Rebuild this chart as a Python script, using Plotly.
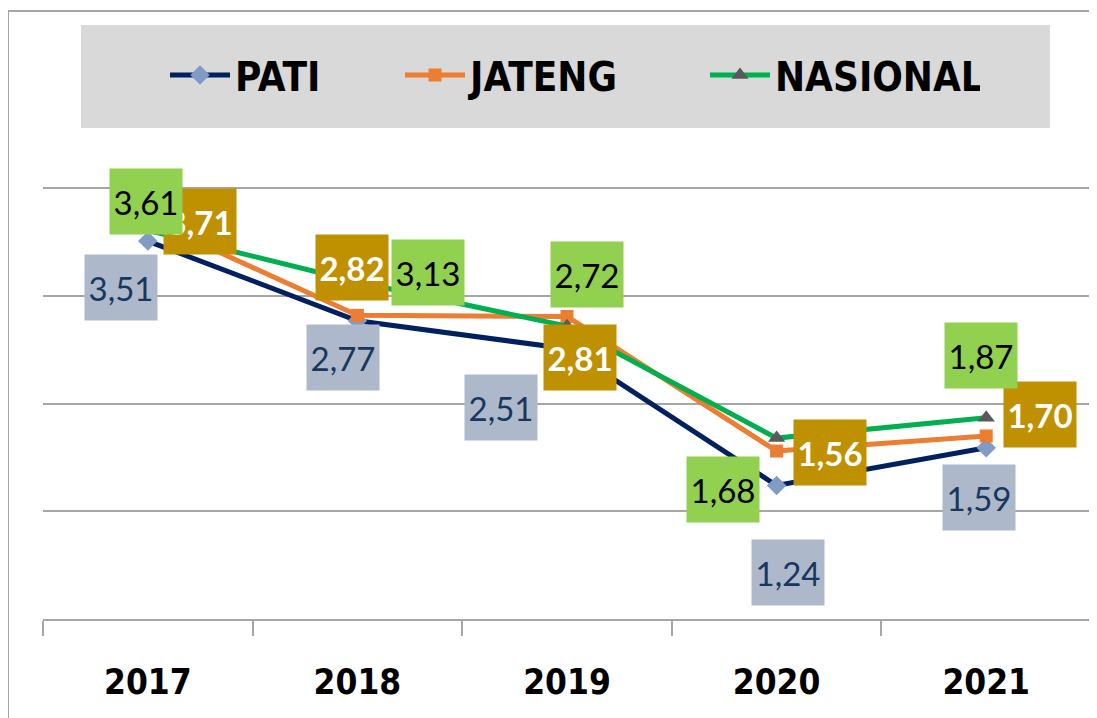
import plotly.graph_objects as go

years = ["2017", "2018", "2019", "2020", "2021"]
pati = [3.51, 2.77, 2.51, 1.24, 1.59]
jateng = [3.71, 2.82, 2.81, 1.56, 1.70]
nasional = [3.61, 3.13, 2.72, 1.68, 1.87]

def fmt(v):
    return f"{v:.2f}".replace(".", ",")

# label box offsets in pixels (dx right, dy down) from each data point
pati_off = [(-27, 46), (-14, 37), (-66, 59), (11, 87), (-7, 50)]
jateng_off = [(52, 2), (-5, -48), (13, 41), (53, 1), (54, -21)]
nas_off = [(-2, -29), (71, -9), (20, -52), (-54, 51), (-5, -62)]

COND = "DejaVu Sans Condensed, DejaVu Sans, sans-serif"
LABEL = "Lato, Open Sans, sans-serif"

OX, OY = 8, 8  # page body offset
L, T, B_AX, R_AX = 43 - OX, 156 - OY, 619 - OY, 1091 - OX
W, H = 1097, 718

fig = go.Figure()
fig.add_trace(go.Scatter(
    x=years, y=pati, name="PATI", mode="lines+markers",
    line=dict(color="#002060", width=5),
    marker=dict(symbol="diamond", size=15, color="#7f9cc4"),
    legendwidth=160, cliponaxis=False))
fig.add_trace(go.Scatter(
    x=years, y=jateng, name="JATENG", mode="lines+markers",
    line=dict(color="#ed7d31", width=5),
    marker=dict(symbol="square", size=13, color="#ed7d31"),
    legendwidth=230, cliponaxis=False))
fig.add_trace(go.Scatter(
    x=years, y=nasional, name="NASIONAL", mode="lines+markers",
    line=dict(color="#00b050", width=5),
    marker=dict(symbol="triangle-up", size=15, color="#595959"),
    legendwidth=200, cliponaxis=False))

annotations = []
series_styles = [
    (pati, pati_off, "#adb9ca", "#17375e", False),
    (jateng, jateng_off, "#bf9000", "#ffffff", True),
    (nasional, nas_off, "#92d050", "#000000", False),
]
for vals, offs, bg, fc, bold in series_styles:
    for i, (v, (dx, dy)) in enumerate(zip(vals, offs)):
        txt = fmt(v)
        if bold:
            txt = "<b>" + txt + "</b>"
        annotations.append(dict(
            x=i, y=v, xref="x", yref="y", text=txt, showarrow=False,
            xshift=dx, yshift=-dy, width=70, height=63, bgcolor=bg,
            font=dict(family=LABEL, size=33, color=fc)))

PLOT_H = float(B_AX - T)
PLOT_W = float(R_AX - L)
def py(pix):
    return (619 - pix) / PLOT_H
def px(pix):
    return (pix - 43) / PLOT_W

shapes = [
    dict(type="rect", xref="paper", yref="paper", x0=px(81), x1=px(1050), y0=py(128), y1=py(25),
         fillcolor="#d9d9d9", line=dict(width=0), layer="below"),
    dict(type="line", xref="paper", yref="paper", x0=px(8), x1=px(1120), y0=py(11), y1=py(11),
         line=dict(color="#a6a6a6", width=2)),
    dict(type="line", xref="paper", yref="paper", x0=px(8), x1=px(8), y0=py(11), y1=py(740),
         line=dict(color="#a6a6a6", width=2)),
]

fig.update_layout(
    width=W, height=H,
    margin=dict(l=L, r=W - R_AX, t=T, b=H - B_AX, autoexpand=False),
    paper_bgcolor="white", plot_bgcolor="white",
    showlegend=True,
    legend=dict(orientation="h", x=px(165), y=py(75), xanchor="left", yanchor="middle",
                bgcolor="rgba(0,0,0,0)",
                font=dict(family=COND, size=40, color="#000000", weight="bold"),
                itemwidth=60),
    annotations=annotations,
    shapes=shapes,
    xaxis=dict(type="category", range=[-0.5, 4.5], showgrid=False, automargin=False,
               showline=True, linecolor="#a6a6a6", linewidth=2,
               ticks="outside", tickson="boundaries", ticklen=15, tickcolor="#a6a6a6", tickwidth=2,
               tickfont=dict(family=COND, size=35, color="#000000", weight="bold"),
               ticklabelstandoff=31),
    yaxis=dict(range=[0, 4.3], tickvals=[1, 2, 3, 4], showgrid=True, gridcolor="#a6a6a6", gridwidth=2,
               showticklabels=False, zeroline=False, showline=False, ticks="", automargin=False),
)

fig.write_html("out.html")
